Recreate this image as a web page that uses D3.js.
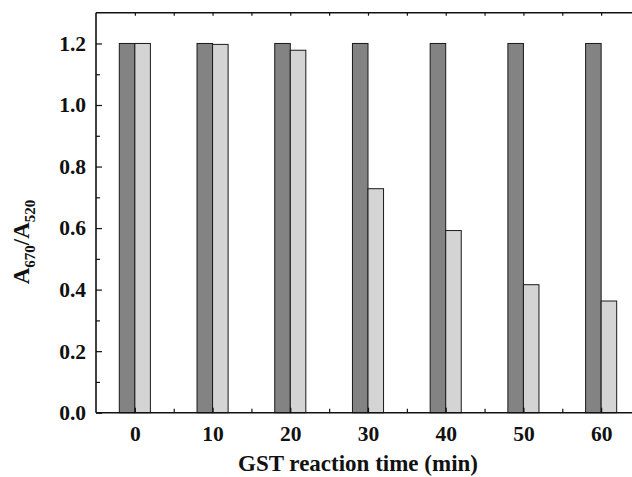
<!DOCTYPE html>
<html><head><meta charset="utf-8">
<script src="https://cdn.jsdelivr.net/npm/d3@7"></script>
<style>body{margin:0;background:#fff}svg{display:block}</style>
</head><body><svg id="c" width="632" height="477"></svg>
<script>
const times = [0, 10, 20, 30, 40, 50, 60];
const seriesDark = [1.2, 1.2, 1.2, 1.2, 1.2, 1.2, 1.2];
const seriesLight = [1.2, 1.197, 1.178, 0.728, 0.592, 0.416, 0.363];
const yTicks = [0.0, 0.2, 0.4, 0.6, 0.8, 1.0, 1.2];
const xTicks = [0, 10, 20, 30, 40, 50, 60];

(function () {
const svg = d3.select("#c");
const L = 96, T = 12.7, R = 640, B = 412.7;
const x = d3.scaleLinear().domain([-5, 65]).range([L, R]);
const y = d3.scaleLinear().domain([0, 1.3]).range([B, T]);
const font = "'Liberation Serif', 'Times New Roman', serif";
const barW = 2;

const g = svg.append("g");
g.selectAll("rect.d").data(times).join("rect")
  .attr("x", (t) => x(t - barW)).attr("width", (t) => x(barW) - x(0))
  .attr("y", (t, i) => y(seriesDark[i])).attr("height", (t, i) => y(0) - y(seriesDark[i]))
  .attr("fill", "#838383").attr("stroke", "#1a1a1a").attr("stroke-width", 1);
g.selectAll("rect.l").data(times).join("rect")
  .attr("x", (t) => x(t)).attr("width", (t) => x(barW) - x(0))
  .attr("y", (t, i) => y(seriesLight[i])).attr("height", (t, i) => y(0) - y(seriesLight[i]))
  .attr("fill", "#d4d4d4").attr("stroke", "#1a1a1a").attr("stroke-width", 1);

const minorX = d3.range(-5, 66, 5).filter(v => v % 10 !== 0 && v > -5);
const yMinor = d3.range(0.1, 1.3, 0.2);

const axB = svg.append("g").attr("transform", `translate(0,${B})`)
  .call(d3.axisBottom(x).tickValues(xTicks).tickSize(-5).tickPadding(13).tickFormat(d3.format("d")));
const axBm = svg.append("g").attr("transform", `translate(0,${B})`)
  .call(d3.axisBottom(x).tickValues(minorX).tickSize(-4).tickFormat(""));
const axL = svg.append("g").attr("transform", `translate(${L},0)`)
  .call(d3.axisLeft(y).tickValues(yTicks).tickSize(-6).tickPadding(10).tickFormat(d3.format(".1f")));
const axLm = svg.append("g").attr("transform", `translate(${L},0)`)
  .call(d3.axisLeft(y).tickValues(yMinor).tickSize(-4).tickFormat(""));
const axT = svg.append("g").attr("transform", `translate(0,${T})`)
  .call(d3.axisTop(x).tickValues(d3.range(0, 66, 5)).tickSize(-3).tickFormat(""));

[axB, axBm, axL, axLm, axT].forEach(a => {
  a.attr("font-size", 21.5).attr("font-family", font);
  a.select(".domain").attr("stroke", "#111").attr("stroke-width", 1.6);
  a.selectAll(".tick line").attr("stroke", "#111").attr("stroke-width", 1.2);
  a.selectAll("text").attr("font-family", font).attr("font-weight", "bold")
    .style("font-size", "21.5px").attr("fill", "#111");
});
axB.select(".domain").attr("d", `M${L},0H${R}`);
axBm.select(".domain").remove();
axLm.select(".domain").remove();
axL.select(".domain").attr("d", `M0,${T}V${B}`);
axT.select(".domain").attr("d", `M${L},0H${R}`);

svg.append("text").attr("x", 358).attr("y", 471).attr("text-anchor", "middle")
  .attr("font-family", font).attr("font-weight", "bold").attr("font-size", 23)
  .attr("fill", "#111")
  .text("GST reaction time (min)");

const yl = svg.append("text").attr("transform", "translate(29,242) rotate(-90)")
  .attr("text-anchor", "middle").attr("font-family", font).attr("font-weight", "bold")
  .attr("font-size", 23).attr("fill", "#111");
yl.append("tspan").text("A");
yl.append("tspan").attr("font-size", 15).attr("dy", 6).text("670");
yl.append("tspan").attr("dy", -6).text("/A");
yl.append("tspan").attr("font-size", 15).attr("dy", 6).text("520");
})();
</script></body></html>
